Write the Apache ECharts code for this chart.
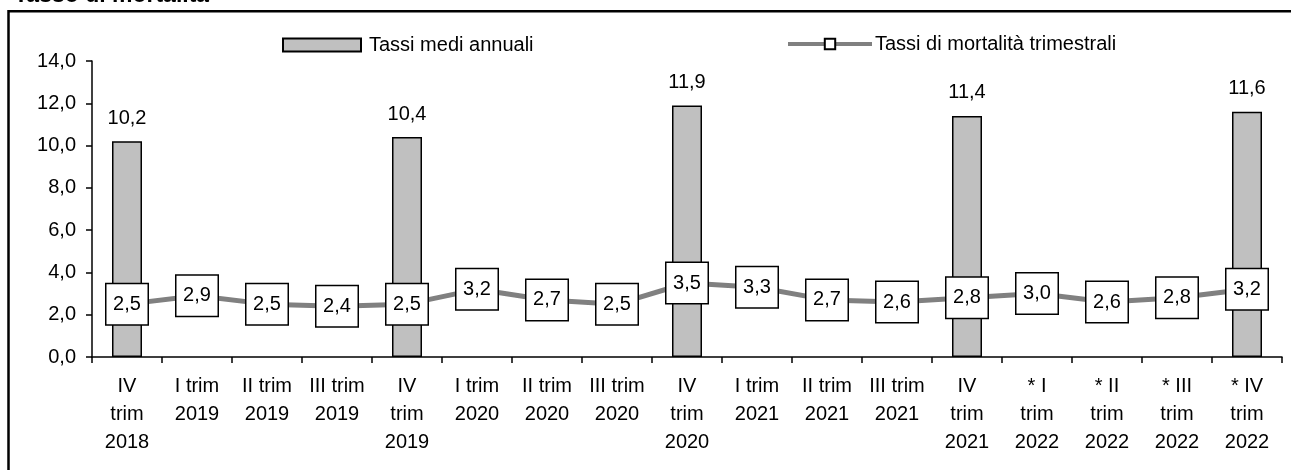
<!DOCTYPE html>
<html><head><meta charset="utf-8">
<script src="https://cdn.jsdelivr.net/npm/echarts@6/dist/echarts.min.js"></script>
<style>html,body{margin:0;padding:0;background:#fff}#c{width:1291px;height:470px}</style>
</head><body><div id="c"></div>
<script>
const categories = ["IV\ntrim\n2018","I trim\n2019","II trim\n2019","III trim\n2019","IV\ntrim\n2019","I trim\n2020","II trim\n2020","III trim\n2020","IV\ntrim\n2020","I trim\n2021","II trim\n2021","III trim\n2021","IV\ntrim\n2021","* I\ntrim\n2022","* II\ntrim\n2022","* III\ntrim\n2022","* IV\ntrim\n2022"];
const annualRates = [10.2,'-','-','-',10.4,'-','-','-',11.9,'-','-','-',11.4,'-','-','-',11.6];
const quarterlyRates = [2.5,2.9,2.5,2.4,2.5,3.2,2.7,2.5,3.5,3.3,2.7,2.6,2.8,3.0,2.6,2.8,3.2];
const yTicks = {min:0, max:14, interval:2};
const fmt = v => Number(v).toFixed(1).replace('.', ',');
const FONT = 'Liberation Sans, Arial, sans-serif';
const chart = echarts.init(document.getElementById('c'), null, {renderer:'canvas'});
chart.setOption({
  animation:false,
  backgroundColor:'#fff',
  textStyle:{fontFamily:FONT, color:'#000'},
  title:{text:'Tasso di mortalità', left:14, top:-16, padding:0,
    textStyle:{fontFamily:FONT, fontSize:23, fontWeight:'bold', color:'#000'}},
  graphic:[{type:'rect', shape:{x:8.5, y:11.3, width:1400, height:600},
    style:{fill:'none', stroke:'#000', lineWidth:2.5}, silent:true, z:-1}],
  legend:[
    {data:[{name:'Tassi medi annuali', icon:'rect'}], left:282, top:35, padding:0, itemWidth:78, itemHeight:13,
     textStyle:{fontFamily:FONT, fontSize:20, color:'#000', padding:[0,0,0,3]}},
    {data:[{name:'Tassi di mortalità trimestrali', lineStyle:{width:4, color:'#808080'}}],
     left:786, top:34, padding:0, itemWidth:84, itemHeight:13,
     lineStyle:{width:4, color:'#808080'},
     textStyle:{fontFamily:FONT, fontSize:20, color:'#000', padding:[0,0,0,-2]}}
  ],
  grid:{left:92, right:9, top:61, bottom:113},
  xAxis:{type:'category', data:categories,
    axisLine:{lineStyle:{color:'#000', width:1.5}},
    axisTick:{show:true, interval:0, length:6, lineStyle:{color:'#000', width:1.5}},
    axisLabel:{interval:0, margin:15, fontFamily:FONT, fontSize:20, lineHeight:28, color:'#000'}},
  yAxis:{type:'value', min:yTicks.min, max:yTicks.max, interval:yTicks.interval,
    axisLine:{show:true, lineStyle:{color:'#000', width:1.5}},
    axisTick:{show:true, length:6, lineStyle:{color:'#000', width:1.5}},
    splitLine:{show:false},
    axisLabel:{margin:16, fontFamily:FONT, fontSize:20, color:'#000', formatter:fmt}},
  series:[
    {name:'Tassi medi annuali', type:'bar', data:annualRates, barWidth:30,
     itemStyle:{color:'#c0c0c0', borderColor:'#000', borderWidth:1.5},
     label:{show:true, position:'top', distance:13, fontFamily:FONT, fontSize:20, color:'#000',
       formatter:p=>fmt(p.value)}},
    {name:'Tassi di mortalità trimestrali', type:'line', data:quarterlyRates, z:5,
     symbol:'rect', symbolSize:10, showAllSymbol:true,
     itemStyle:{color:'#fff', borderColor:'#000', borderWidth:1.5},
     lineStyle:{color:'#808080', width:5},
     label:{show:true, position:'inside', formatter:p=>fmt(p.value),
       fontFamily:FONT, fontSize:20, color:'#000', backgroundColor:'#fff',
       borderColor:'#000', borderWidth:1.5, padding:0, width:41, height:40, lineHeight:40, align:'center'}}
  ]
});
</script></body></html>
